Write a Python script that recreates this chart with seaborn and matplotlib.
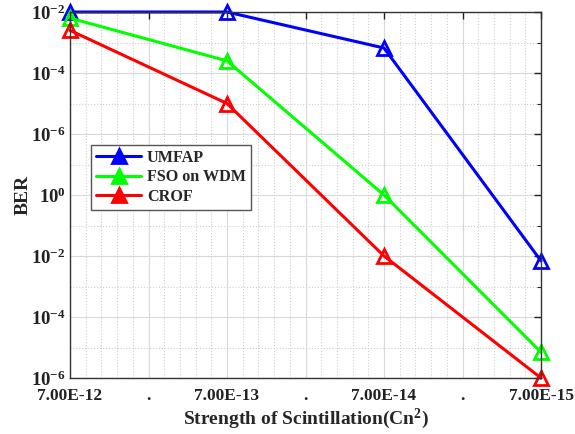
import matplotlib
matplotlib.use("Agg")
import matplotlib.pyplot as plt
import seaborn as sns
import pandas as pd
import numpy as np
from matplotlib.ticker import FixedLocator, FixedFormatter, NullFormatter

# Data (x index positions of the four scintillation strengths; BER values)
x_pos = [0, 1, 2, 3]
umfap = [1e-2, 1e-2, 6.6e-4, 6.9e-11]
fso_wdm = [6.3e-3, 2.5e-4, 1e-8, 7e-14]
crof = [2.5e-3, 1e-5, 1e-10, 1e-14]
series_names = ["UMFAP", "FSO on WDM", "CROF"]
colors = ["#0000ff", "#00ff00", "#ff0000"]
x_tick_labels = ["7.00E-12", ".", "7.00E-13", ".", "7.00E-14", ".", "7.00E-15"]
y_tick_vals = [1e-2, 1e-4, 1e-6, 1e-8, 1e-10, 1e-12, 1e-14]
y_tick_labels = ["10$^{-2}$", "10$^{-4}$", "10$^{-6}$", "10$^{0}$", "10$^{-2}$", "10$^{-4}$", "10$^{-6}$"]

df = pd.DataFrame({
    "x": x_pos * 3,
    "BER": umfap + fso_wdm + crof,
    "series": sum([[n] * 4 for n in series_names], []),
})

sns.set_style("white")
plt.rcParams["font.family"] = ["Liberation Serif", "DejaVu Serif"]
plt.rcParams["mathtext.fontset"] = "custom"
plt.rcParams["mathtext.rm"] = "Liberation Serif:bold"
plt.rcParams["mathtext.it"] = "Liberation Serif:bold"
plt.rcParams["mathtext.bf"] = "Liberation Serif:bold"
plt.rcParams["mathtext.default"] = "rm"

fig = plt.figure(figsize=(5.75, 4.34), dpi=100)
ax = fig.add_axes([70 / 575, (434 - 378) / 434, (541 - 70) / 575, (378 - 12) / 434])

sns.lineplot(data=df, x="x", y="BER", hue="series", palette=colors,
             hue_order=series_names, marker="^", markersize=10,
             markerfacecolor="none", markeredgewidth=2, linewidth=2.2,
             ax=ax, legend=True)
for ln in ax.lines:
    ln.set_clip_on(False)
    ln.set_markeredgecolor(ln.get_color())
    ln.set_markerfacecolor("none")

ax.set_yscale("log")
ax.set_ylim(1e-14, 1e-2)
ax.set_xlim(0, 3)
ax.yaxis.set_major_locator(FixedLocator(y_tick_vals))
ax.yaxis.set_major_formatter(FixedFormatter(y_tick_labels))
ax.yaxis.set_minor_locator(FixedLocator([10 ** (-3 - 2 * i) for i in range(6)]))
ax.yaxis.set_minor_formatter(NullFormatter())
ax.set_xticks(np.arange(0, 3.01, 0.5))
ax.set_xticklabels(x_tick_labels)

# grids: major solid light, minor dotted
ax.grid(True, which="major", color="#d9d9d9", linestyle="-", linewidth=0.8)
ax.xaxis.set_minor_locator(FixedLocator(np.arange(0, 3.01, 0.1)))
ax.grid(True, which="minor", color="#cfcfcf", linestyle=":", linewidth=0.8)
ax.set_axisbelow(True)

for s in ax.spines.values():
    s.set_visible(True)
    s.set_color("#333333")
    s.set_linewidth(1.0)

ax.tick_params(axis="both", which="major", direction="in", length=5, width=1,
               top=True, right=True, labelsize=12.5, colors="#222222")
ax.tick_params(axis="y", which="major", labelsize=13.5, pad=3)
ax.tick_params(axis="x", which="major", pad=7)
ax.tick_params(axis="both", which="minor", direction="in", length=3, width=0.8,
               top=True, right=True)
ax.tick_params(axis="x", which="minor", length=0)
for lab in ax.get_xticklabels() + ax.get_yticklabels():
    lab.set_fontweight("bold")

ax.set_xlabel("Strength of Scintillation(Cn$^2$)", fontsize=14, fontweight="bold", labelpad=2)
ax.set_ylabel("BER", fontsize=14, fontweight="bold", labelpad=0)

leg = ax.legend(loc="upper left", bbox_to_anchor=(0.045, 0.637), borderaxespad=0,
                frameon=True, fancybox=False, edgecolor="#555555", framealpha=1,
                prop={"weight": "bold", "size": 11.6}, handlelength=2.8,
                borderpad=0.3, labelspacing=0.22, handletextpad=0.35)
leg.get_frame().set_linewidth(1.0)
for h in leg.get_lines():
    h.set_markerfacecolor(h.get_color())

fig.savefig("out.png", dpi=100)
